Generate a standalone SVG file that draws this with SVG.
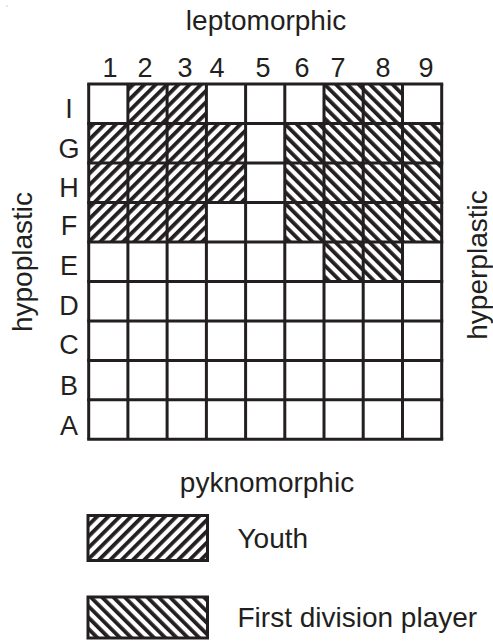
<svg xmlns="http://www.w3.org/2000/svg" width="493" height="641" viewBox="0 0 493 641">
  <defs>
    <!-- "/" hatching -->
    <pattern id="hatch-youth" patternUnits="userSpaceOnUse" width="8" height="8" patternTransform="rotate(45)">
      <rect x="0" y="0" width="8" height="8" fill="#fff"/>
      <rect x="0" y="0" width="3.8" height="8" fill="#231f20"/>
    </pattern>
    <!-- "\" hatching -->
    <pattern id="hatch-first" patternUnits="userSpaceOnUse" width="8" height="8" patternTransform="rotate(-45)">
      <rect x="0" y="0" width="8" height="8" fill="#fff"/>
      <rect x="0" y="0" width="3.8" height="8" fill="#231f20"/>
    </pattern>
  </defs>
  <style>
    text { font-family: "Liberation Sans", Arial, sans-serif; fill: #231f20; }
    .axis { font-size: 28px; text-anchor: middle; }
    .num { font-size: 27px; text-anchor: middle; }
    .row { font-size: 27px; text-anchor: middle; }
    .leg { font-size: 28px; }
    .y { fill: url(#hatch-youth); }
    .f { fill: url(#hatch-first); }
    .grid { fill: none; stroke: #231f20; stroke-width: 3; }
    .box { stroke: #231f20; stroke-width: 3; }
  </style>

  <rect width="493" height="641" fill="#fff"/>
  <rect x="6.5" y="5.5" width="1" height="1" fill="#999"/>

  <!-- axis titles -->
  <g id="axis-titles">
    <text class="axis" x="266" y="30">leptomorphic</text>
    <text class="axis" x="267" y="492">pyknomorphic</text>
    <text class="axis" transform="translate(31.5,262) rotate(-90)">hypoplastic</text>
    <text class="axis" transform="translate(486.5,265) rotate(-90)">hyperplastic</text>
  </g>

  <!-- column numbers -->
  <g id="column-labels">
    <text class="num" x="110" y="77">1</text>
    <text class="num" x="145" y="77">2</text>
    <text class="num" x="185" y="77">3</text>
    <text class="num" x="217" y="77">4</text>
    <text class="num" x="263" y="77">5</text>
    <text class="num" x="302" y="77">6</text>
    <text class="num" x="338" y="77">7</text>
    <text class="num" x="383" y="77">8</text>
    <text class="num" x="426" y="77">9</text>
  </g>

  <!-- row letters -->
  <g id="row-labels">
    <text class="row" x="69" y="118">I</text>
    <text class="row" x="69" y="158">G</text>
    <text class="row" x="69" y="197">H</text>
    <text class="row" x="69" y="235">F</text>
    <text class="row" x="69" y="275">E</text>
    <text class="row" x="69" y="315">D</text>
    <text class="row" x="69" y="354">C</text>
    <text class="row" x="69" y="395">B</text>
    <text class="row" x="69" y="435">A</text>
  </g>

  <!-- hatched cells -->
  <g id="cells">
    <!-- row I -->
    <rect class="y" x="127.9" y="84" width="39.2" height="39.5"/>
    <rect class="y" x="167.1" y="84" width="39.3" height="39.5"/>
    <rect class="f" x="324.0" y="84" width="39.2" height="39.5"/>
    <rect class="f" x="363.2" y="84" width="39.3" height="39.5"/>
    <!-- rows G, H -->
    <rect class="y" x="88.7" y="123.5" width="157.7" height="78.9"/>
    <rect class="f" x="284.8" y="123.5" width="156.9" height="78.9"/>
    <!-- row F -->
    <rect class="y" x="88.7" y="202.4" width="117.7" height="39.5"/>
    <rect class="f" x="284.8" y="202.4" width="156.9" height="39.5"/>
    <!-- row E -->
    <rect class="f" x="324.0" y="241.9" width="78.5" height="39.5"/>
  </g>

  <!-- grid lines -->
  <g id="grid">
    <path class="grid" d="M88.7 84V439.3M127.9 84V439.3M167.1 84V439.3M206.4 84V439.3M245.6 84V439.3M284.8 84V439.3M324 84V439.3M363.2 84V439.3M402.5 84V439.3M441.7 84V439.3"/>
    <path class="grid" d="M87.2 84H443.2M87.2 123.5H443.2M87.2 163H443.2M87.2 202.4H443.2M87.2 241.9H443.2M87.2 281.4H443.2M87.2 320.9H443.2M87.2 360.4H443.2M87.2 399.8H443.2M87.2 439.3H443.2"/>
  </g>

  <!-- legend -->
  <g id="legend-youth">
    <rect class="y box" x="88" y="515.5" width="119.5" height="45"/>
    <text class="leg" x="237.5" y="548">Youth</text>
  </g>
  <g id="legend-first">
    <rect class="f box" x="88" y="597" width="119.5" height="41"/>
    <text class="leg" x="237.5" y="627">First division player</text>
  </g>
</svg>
